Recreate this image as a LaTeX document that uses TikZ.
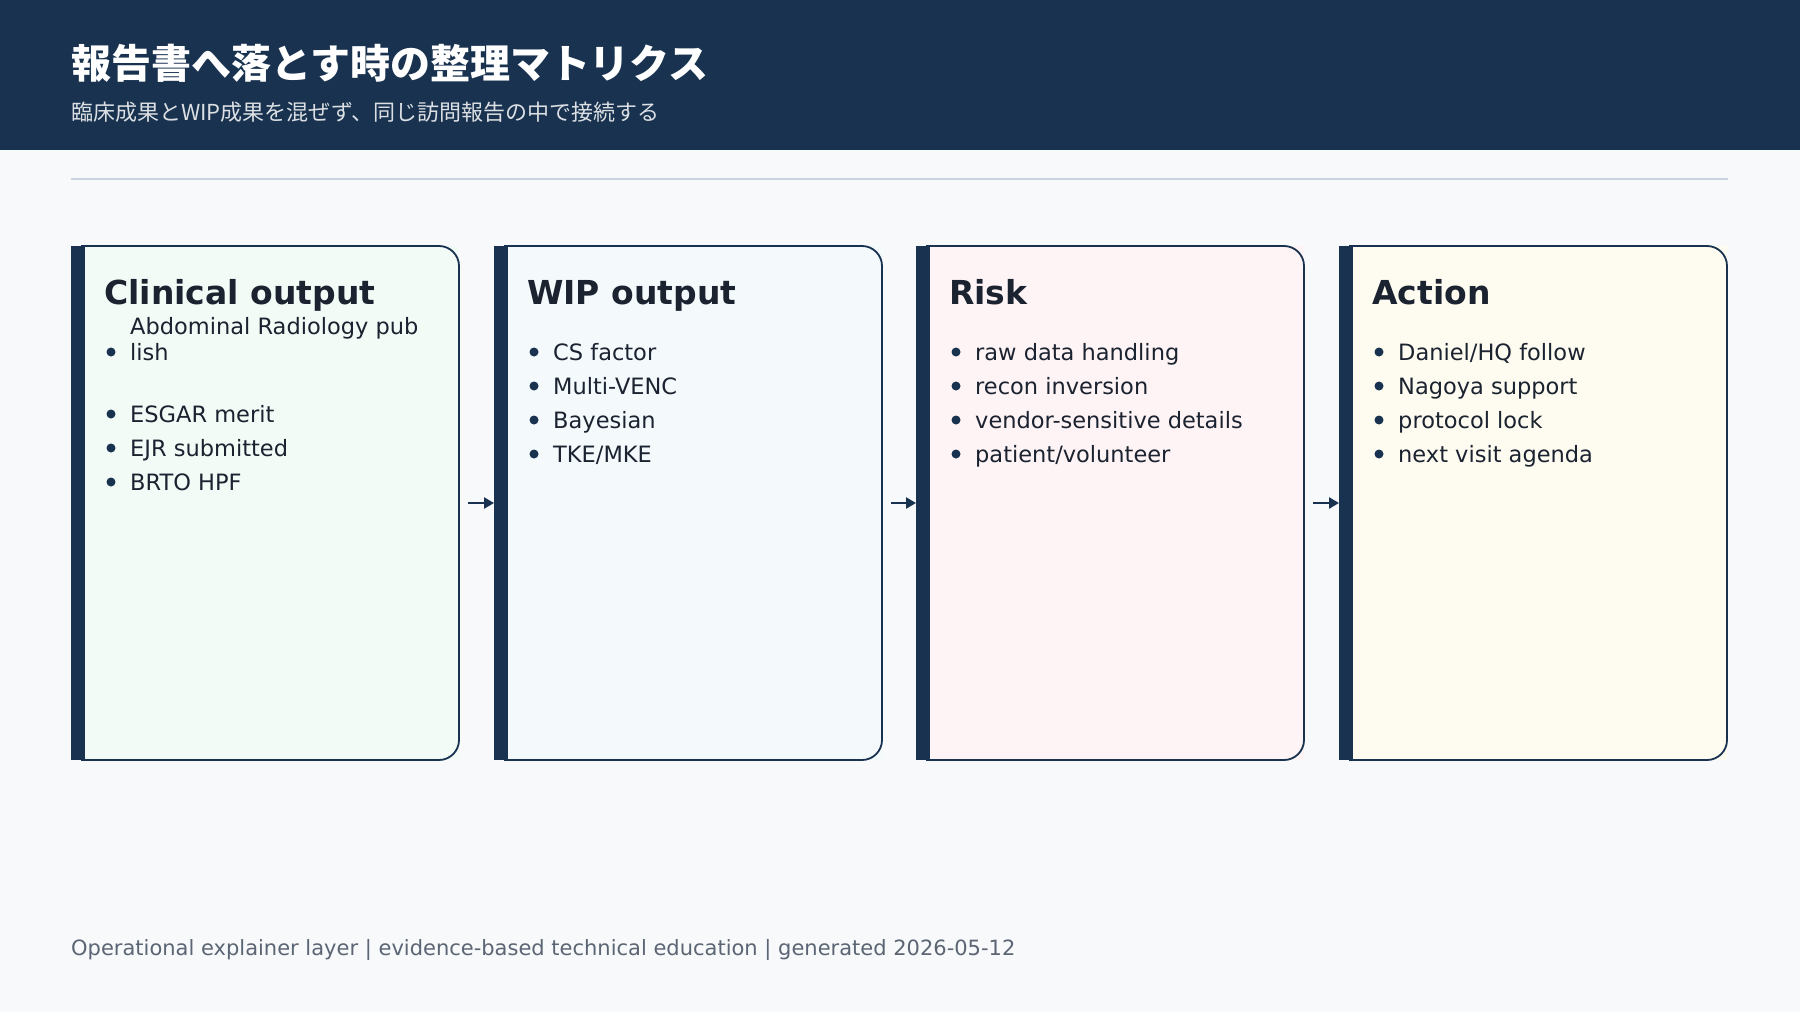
\documentclass[tikz,border=0pt]{standalone}
\usepackage{fontspec}
\setmainfont{DejaVu Sans}
\newfontfamily\jpfont{Noto Sans CJK JP}
\usetikzlibrary{positioning,arrows.meta}
\definecolor{navyColor}{HTML}{18324F}
\definecolor{pageColor}{HTML}{F7F9FB}
\definecolor{ruleColor}{HTML}{CBD5E1}
\definecolor{inkColor}{HTML}{1B2230}
\definecolor{footColor}{HTML}{5B6573}
\definecolor{greenFill}{HTML}{F2FBF6}
\definecolor{blueFill}{HTML}{F4F9FC}
\definecolor{pinkFill}{HTML}{FEF4F5}
\definecolor{yellowFill}{HTML}{FEFCF0}
\tikzset{
  cardBody/.style = {draw=navyColor, line width=1.8pt, rounded corners=20pt},
  cardBar/.style = {fill=navyColor, draw=none, minimum width=14pt, minimum height=514pt, inner sep=0pt, anchor=north west},
  cardTitle/.style = {anchor=base west, font=\fontsize{33}{38}\selectfont\bfseries, text=inkColor, inner sep=0pt},
  itemText/.style = {anchor=base west, font=\fontsize{22.5}{27}\selectfont, text=inkColor, inner sep=0pt, align=left},
  dotMark/.style = {circle, fill=navyColor, minimum size=9pt, inner sep=0pt},
  flow/.style = {-{Triangle[length=10pt,width=11pt]}, draw=navyColor, line width=2.5pt}
}
% one card: name, left x, fill colour, title
\newcommand{\card}[4]{
  \fill[#3] (#2+10,246) -- (#2+388,246) -- (#2+388,760) -- (#2+10,760) -- cycle;
  \draw[cardBody] (#2+10,246) -- (#2+388,246) -- (#2+388,760) -- (#2+10,760);
  \node[cardBar] (#1bar) at (#2,246) {};
  \coordinate (#1east) at (#2+388,503);
  \node[cardTitle] (#1title) at (#2+33,304) {#4};
}
% one bullet: card name, index, left x, baseline y, text
\newcommand{\cardItem}[5]{
  \node[dotMark] (#1dot#2) at (#3+40,#4-8) {};
  \node[itemText] (#1item#2) at (#3+59,#4) {#5};
}
\begin{document}
\begin{tikzpicture}[x=1pt, y=-1pt]
  \useasboundingbox (0,0) rectangle (1800,1012);
  \fill[pageColor] (0,0) rectangle (1800,1012);
  \fill[navyColor] (0,0) rectangle (1800,150);
  \node[anchor=base west, inner sep=0pt, text=white, font=\jpfont\fontsize{40}{46}\selectfont\bfseries] (title) at (71,78) {報告書へ落とす時の整理マトリクス};
  \node[anchor=base west, inner sep=0pt, text=white!85!navyColor, font=\jpfont\fontsize{22}{26}\selectfont] (subtitle) at (71,120) {臨床成果とWIP成果を混ぜず、同じ訪問報告の中で接続する};
  \draw[ruleColor, line width=1.5pt] (71,179) -- (1728,179);

  \card{clin}{71}{greenFill}{Clinical output}
  \cardItem{clin}{1}{71}{360}{Abdominal Radiology pub\\[-1pt]lish}
  \cardItem{clin}{2}{71}{422}{ESGAR merit}
  \cardItem{clin}{3}{71}{456}{EJR submitted}
  \cardItem{clin}{4}{71}{490}{BRTO HPF}

  \card{wip}{494}{blueFill}{WIP output}
  \cardItem{wip}{1}{494}{360}{CS factor}
  \cardItem{wip}{2}{494}{394}{Multi-VENC}
  \cardItem{wip}{3}{494}{428}{Bayesian}
  \cardItem{wip}{4}{494}{462}{TKE/MKE}

  \card{risk}{916}{pinkFill}{Risk}
  \cardItem{risk}{1}{916}{360}{raw data handling}
  \cardItem{risk}{2}{916}{394}{recon inversion}
  \cardItem{risk}{3}{916}{428}{vendor-sensitive details}
  \cardItem{risk}{4}{916}{462}{patient/volunteer}

  \card{act}{1339}{yellowFill}{Action}
  \cardItem{act}{1}{1339}{360}{Daniel/HQ follow}
  \cardItem{act}{2}{1339}{394}{Nagoya support}
  \cardItem{act}{3}{1339}{428}{protocol lock}
  \cardItem{act}{4}{1339}{462}{next visit agenda}

  \draw[flow] ([xshift=9pt]clineast) -- (wipbar.west |- clineast);
  \draw[flow] ([xshift=9pt]wipeast) -- (riskbar.west |- wipeast);
  \draw[flow] ([xshift=9pt]riskeast) -- (actbar.west |- riskeast);

  \node[anchor=base west, inner sep=0pt, text=footColor, font=\fontsize{21}{25}\selectfont] (footer) at (71,955) {Operational explainer layer | evidence-based technical education | generated 2026-05-12};
\end{tikzpicture}
\end{document}
